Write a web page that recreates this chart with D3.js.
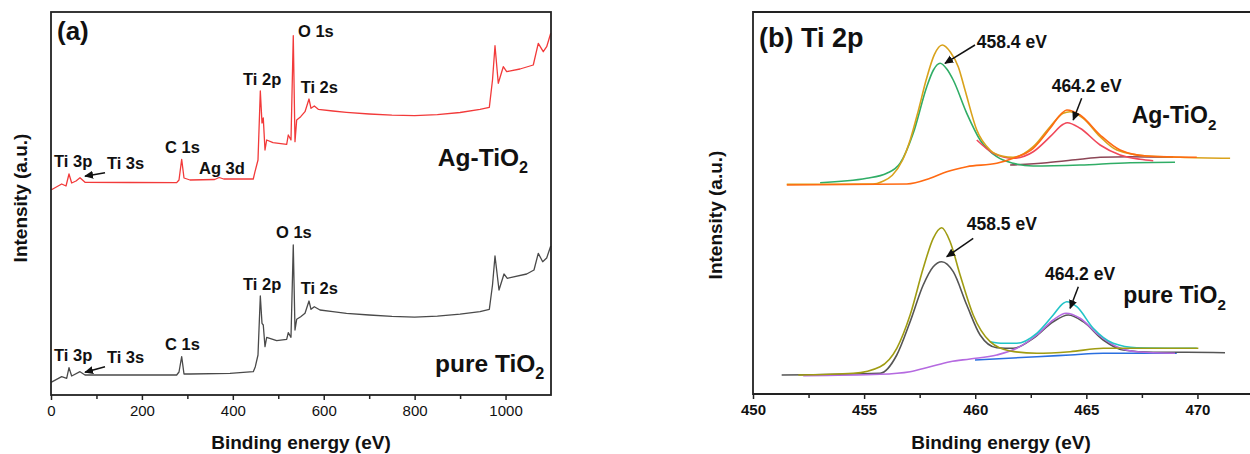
<!DOCTYPE html>
<html><head><meta charset="utf-8">
<script src="https://cdn.jsdelivr.net/npm/d3@7"></script>
<style>
body{margin:0;background:#fff}
svg{display:block}
text{font-family:"Liberation Sans",Arial,sans-serif;fill:#111}
</style>
</head><body><svg id="chart" width="1250" height="454"></svg>
<script>
// ---------------- DATA ----------------
// Panel (a): XPS survey spectra [binding energy (eV), intensity (a.u., offset)]
const surveyAgTiO2 = [
 [0,205],[23.5,211],[33,209],[39.6,221],[45.5,212],[55,214],[63.8,217.3],[74.8,212.7],
 [173.8,212.5],[276.5,212.3],[281.6,215],[287.5,235.7],[292.6,217],[305.8,215],
 [360,215.5],[370,217.5],[380,216],[445,216],[448.8,223.3],[455.4,235],[460.5,304],
 [464.2,272],[467,277],[470.8,245],[474.5,255],[488.4,252.3],[518.5,250.7],[522,260],
 [528,255],[533,359.3],[536.8,253.3],[540.5,275],[549.3,278.3],[558.8,283.3],[567.6,296],
 [572,286.7],[579.3,289],[588,285.7],[620,284],[650,282.7],[700,281],[750,279.8],
 [800,279.3],[850,280.3],[900,282.5],[943.8,285.7],[964.3,287.7],[971.3,315],[976.8,349.3],
 [984,311.7],[995,328.3],[1002.5,323.3],[1031.8,326],[1061,330],[1072,351.7],[1083,343.3],
 [1090.5,348.3],[1099.4,361.7]
];
const surveyPureTiO2 = [
 [0,12.7],[23.5,18.3],[34.5,16.7],[39.6,27.3],[45.5,19],[63.8,23.3],[74.8,20],
 [173.8,20],[276.5,20],[281.6,23],[287.5,38.3],[292.6,21],[305.8,21],[393.8,21.7],
 [445,23.3],[449.5,28.3],[455.4,40],[460.5,99],[464.2,71.7],[467,70],[470.8,48.3],
 [474.5,57.7],[496.5,54.3],[518.5,55.7],[522,62.3],[528,57.7],[533,150],[536.8,65],
 [540.5,75.7],[549.3,78.3],[558.8,81.7],[567.6,94],[572,85.7],[579.3,88.3],[591.8,85],
 [620,83.3],[650,81.7],[700,80],[750,78.6],[800,77.8],[850,78.8],[900,80.8],[943.8,83.3],
 [964.3,85.7],[971.3,110],[976.8,139],[985.6,105],[996.6,121],[1003.9,116.7],[1046.5,121],
 [1062.6,125],[1072,141.7],[1081.7,133.3],[1090.5,137],[1099.4,149]
];
const surveyTicks = [0,200,400,600,800,1000];

// Panel (b): Ti 2p high-resolution fits
const agEnvelope = [
 [451.52,209.7],[455.4,210],[455.82,212.6],[456.27,218.7],[456.72,233.5],[457.08,254.6],
 [457.44,283.4],[457.8,314.7],[458.16,339.4],[458.52,349],[458.88,342],[459.24,327],
 [459.54,304],[460.07,264],[460.67,244],[461.2,238],[461.7,236.7],[462.61,247.3],
 [463.37,267.3],[463.96,280.7],[464.27,282.3],[464.86,275.7],[465.62,257.3],[466.37,244],
 [467.72,238],[469.22,236.7],[471.47,235.7]
];
const agTi2p32 = [
 [453.02,211.3],[455.12,215.7],[456.02,220.7],[456.62,230.7],[457.21,260.7],[457.82,307.3],
 [458.12,324],[458.42,330.7],[458.72,325],[459.01,314],[459.62,280.7],[460.22,254],
 [460.97,237.3],[461.71,230.7],[462.61,228],[464.72,229],[466.97,231.3],[468.99,231.7]
];
const agTi2p12Sum = [
 [451.52,209],[456.92,210],[457.97,215.7],[458.72,222.3],[459.62,227.3],[460.97,230.7],
 [461.71,235.7],[462.61,245.7],[463.37,265.7],[463.89,280.7],[464.12,284],[464.72,279],
 [465.62,259],[466.52,244],[467.72,238],[469.97,236.7]
];
const agTi2p12 = [
 [460.07,254],[460.82,240.7],[461.71,235.7],[462.61,242.3],[463.37,257.3],[463.96,269.7],
 [464.14,271.3],[464.72,265.7],[465.62,249],[466.52,239],[467.42,234.7],[468.01,233.3]
];
const agBackground = [
 [461.57,229],[463.22,231.3],[464.72,234.7],[465.62,236.7],[466.97,237.3],[468.91,236.7]
];
const pureRaw = [
 [451.29,19],[455.72,20.7],[456.47,39],[457.07,72.3],[457.66,109],[458.11,127.3],
 [458.49,132.3],[459.01,122.3],[459.62,89],[460.22,59],[460.97,46.3],[461.71,45.7],
 [462.61,55.7],[463.51,72.3],[464.19,79],[464.86,72.3],[465.76,54],[466.66,44],
 [468.01,41.7],[469.52,41.7],[471.24,41.3]
];
const pureTi2p32 = [
 [452.04,19],[454.51,20.7],[455.72,27.3],[456.47,45.7],[457.07,79],[457.66,125.7],
 [458.11,155.7],[458.49,166.3],[458.87,152.3],[459.32,119],[459.91,79],[460.67,52.3],
 [461.57,43],[462.77,40.7],[464.27,42.3],[465.76,45.7],[467.27,45.7],[470.04,45.7]
];
const pureEnvelope12 = [
 [460.67,52.3],[461.26,50.7],[461.87,50.7],[462.77,60.7],[463.51,79],[463.96,90.7],
 [464.12,92.3],[464.57,87.3],[465.31,65.7],[466.21,50.7],[467.27,46.3],[469.97,45.7]
];
const pureTi2p12 = [
 [452.26,18.3],[455.72,19.7],[457.07,22.3],[457.97,27.3],[458.87,32.3],[459.77,35],
 [460.97,39],[461.87,45.7],[462.77,59],[463.51,74],[464.09,80.7],[464.72,75.7],
 [465.47,60.7],[466.37,47.3],[467.27,42.3],[468.99,40.7]
];
const pureBackground = [
 [459.99,34],[462.77,37.3],[464.27,39],[465.76,40.7],[469.07,40.7]
];
const ti2pTicks = [450,455,460,465,470];

// ---------------- LAYOUT ----------------
const svg = d3.select("#chart");
const A = {left:51, right:551, top:12, bottom:395};
const B = {left:753, right:1253, top:12, bottom:394};

const xa = d3.scaleLinear().domain([0,1100]).range([A.left,A.right]);
const ya = d3.scaleLinear().domain([0,383]).range([A.bottom,A.top]);
const xb = d3.scaleLinear().domain([450,472.5]).range([B.left,B.right]);
const yb = d3.scaleLinear().domain([0,382]).range([B.bottom,B.top]);

const defs = svg.append("defs");
defs.append("marker").attr("id","arr").attr("viewBox","0 0 10 10")
  .attr("refX",9).attr("refY",5).attr("markerWidth",6).attr("markerHeight",6)
  .attr("orient","auto").append("path").attr("d","M0,0.5 L10,5 L0,9.5 z").attr("fill","#111");
defs.append("clipPath").attr("id","clipB").append("rect")
  .attr("x",B.left).attr("y",B.top).attr("width",B.right-B.left).attr("height",B.bottom-B.top);

function label(x,y,txt,size,sub,anchor){
  const t = svg.append("text").attr("x",x).attr("y",y).attr("font-size",size)
    .attr("font-weight","bold").attr("text-anchor",anchor||"start");
  t.append("tspan").text(txt);
  if(sub){ t.append("tspan").attr("dy",size*0.3).attr("font-size",size*0.66).text(sub); }
  return t;
}
function arrow(x1,y1,x2,y2){
  svg.append("line").attr("x1",x1).attr("y1",y1).attr("x2",x2).attr("y2",y2)
    .attr("stroke","#111").attr("stroke-width",1.5).attr("marker-end","url(#arr)");
}

// ---------------- PANEL A ----------------
const lineA = d3.line().x(d=>xa(d[0])).y(d=>ya(d[1]));
svg.append("path").datum(surveyPureTiO2).attr("d",lineA).attr("fill","none")
  .attr("stroke","#4a4a4a").attr("stroke-width",1.3).attr("stroke-linejoin","round");
svg.append("path").datum(surveyAgTiO2).attr("d",lineA).attr("fill","none")
  .attr("stroke","#f23a3a").attr("stroke-width",1.3).attr("stroke-linejoin","round");

const axA = svg.append("g").attr("transform",`translate(0,${A.bottom})`)
  .call(d3.axisBottom(xa).tickValues(surveyTicks).tickFormat(d3.format("d"))
    .tickSize(5).tickSizeOuter(0).tickPadding(5));
axA.select(".domain").remove();
axA.selectAll("text").attr("font-size",15).attr("fill","#111")
  .style("font-family","'Liberation Sans',Arial,sans-serif");
axA.selectAll("line").attr("stroke","#222").attr("stroke-width",1.5);
svg.append("g").attr("transform",`translate(0,${A.bottom})`)
  .call(d3.axisBottom(xa).tickValues(d3.range(100,1100,200)).tickSize(4).tickFormat(""))
  .call(g=>{g.select(".domain").remove(); g.selectAll("line").attr("stroke","#222").attr("stroke-width",1.5);});
svg.append("rect").attr("x",A.left).attr("y",A.top).attr("width",A.right-A.left)
  .attr("height",A.bottom-A.top).attr("fill","none").attr("stroke","#222").attr("stroke-width",1.8);

label(xa(13.2),ya(355),"(a)",26);
// peak labels, Ag-TiO2
label(xa(6.6),ya(228),"Ti 3p",16.5);
label(xa(123),ya(226),"Ti 3s",16.5);
arrow(xa(118.8),ya(222.3),xa(74.8),ya(218.8));
label(xa(250.8),ya(242),"C 1s",16.5);
label(xa(325.6),ya(221),"Ag 3d",16.5);
label(xa(422.4),ya(310),"Ti 2p",16.5);
label(xa(543.4),ya(358.3),"O 1s",16.5);
label(xa(549.3),ya(302),"Ti 2s",16.5);
label(xa(851),ya(229.3),"Ag-TiO",24.5,"2");
// peak labels, pure TiO2
label(xa(6.6),ya(34.3),"Ti 3p",16.5);
label(xa(123),ya(32.3),"Ti 3s",16.5);
arrow(xa(118.8),ya(28.3),xa(74.8),ya(22.8));
label(xa(250.8),ya(45),"C 1s",16.5);
label(xa(422.4),ya(105),"Ti 2p",16.5);
label(xa(495),ya(156.7),"O 1s",16.5);
label(xa(549.3),ya(101),"Ti 2s",16.5);
label(xa(844.8),ya(23.3),"pure TiO",24.5,"2");

label(301,449,"Binding energy (eV)",19,null,"middle");
label(0,0,"Intensity (a.u.)",19,null,"middle").attr("transform",`translate(27,198) rotate(-90)`);

// ---------------- PANEL B ----------------
const lineB = d3.line().x(d=>xb(d[0])).y(d=>yb(d[1])).curve(d3.curveMonotoneX);
const gB = svg.append("g").attr("clip-path","url(#clipB)");
function curveB(data,color){
  gB.append("path").datum(data).attr("d",lineB).attr("fill","none")
    .attr("stroke",color).attr("stroke-width",1.6).attr("stroke-linejoin","round");
}
curveB(agBackground,"#8c4656");
curveB(agTi2p32,"#30ad66");
curveB(agTi2p12,"#f0485a");
curveB(agEnvelope,"#d9a21b");
curveB(agTi2p12Sum,"#ff6a12");

curveB(pureBackground,"#2a6fe0");
curveB(pureRaw,"#555555");
curveB(pureTi2p12,"#b56ae0");
curveB(pureEnvelope12,"#22c4c8");
curveB(pureTi2p32,"#a09c12");

const axB = svg.append("g").attr("transform",`translate(0,${B.bottom})`)
  .call(d3.axisBottom(xb).tickValues(ti2pTicks).tickSize(5).tickSizeOuter(0).tickPadding(5));
axB.select(".domain").remove();
axB.selectAll("text").attr("font-size",15).attr("font-weight","bold").attr("fill","#111")
  .style("font-family","'Liberation Sans',Arial,sans-serif");
axB.selectAll("line").attr("stroke","#222").attr("stroke-width",1.5);
svg.append("g").attr("transform",`translate(0,${B.bottom})`)
  .call(d3.axisBottom(xb).tickValues([452.5,457.5,462.5,467.5,472.5]).tickSize(4).tickFormat(""))
  .call(g=>{g.select(".domain").remove(); g.selectAll("line").attr("stroke","#222").attr("stroke-width",1.5);});
svg.append("path").attr("d",`M${B.right},${B.top}H${B.left}V${B.bottom}H${B.right}`)
  .attr("fill","none").attr("stroke","#222").attr("stroke-width",1.8);

label(xb(450.27),yb(347),"(b) Ti 2p",27);
label(xb(460.07),yb(345.7),"458.4 eV",17.5);
arrow(xb(459.99),yb(349),xb(458.64),yb(330.7));
label(xb(463.44),yb(302.3),"464.2 eV",17.5);
arrow(xb(464.79),yb(295.7),xb(464.41),yb(274));
label(xb(467.04),yb(270.7),"Ag-TiO",23,"2");
label(xb(459.62),yb(164),"458.5 eV",17.5);
arrow(xb(459.91),yb(155.7),xb(458.72),yb(137.3));
label(xb(463.14),yb(114),"464.2 eV",17.5);
arrow(xb(464.64),yb(107.3),xb(464.27),yb(85.7));
label(xb(466.66),yb(90.7),"pure TiO",23,"2");

label(1001,449,"Binding energy (eV)",19,null,"middle");
label(0,0,"Intensity (a.u.)",19,null,"middle").attr("transform",`translate(722,215) rotate(-90)`);
</script></body></html>
